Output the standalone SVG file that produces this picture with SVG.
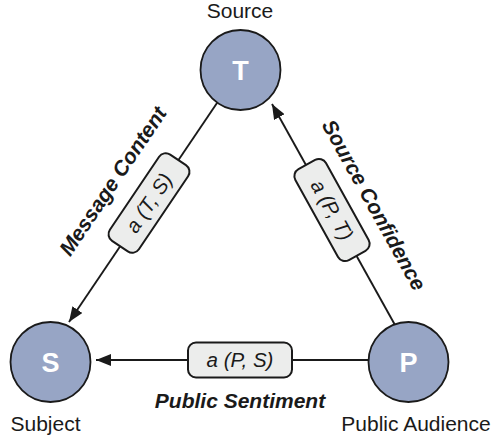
<svg xmlns="http://www.w3.org/2000/svg" width="497" height="440" viewBox="0 0 497 440">
  <defs>
    <style>
      .node circle { fill: #97a5c5; stroke: #1a1a1a; stroke-width: 1.8; }
      .node .letter { font-family: "Liberation Sans", Arial, sans-serif; font-weight: bold; font-size: 27px; fill: #ffffff; text-anchor: middle; }
      .caption { font-family: "Liberation Sans", Arial, sans-serif; font-size: 21px; fill: #1a1a1a; text-anchor: middle; }
      .rel { font-family: "Liberation Sans", Arial, sans-serif; font-size: 21px; font-weight: bold; font-style: italic; fill: #1a1a1a; text-anchor: middle; }
      .link { stroke: #1a1a1a; stroke-width: 1.9; fill: none; }
      .tag rect { fill: #ecedec; stroke: #1a1a1a; stroke-width: 2; }
      .tag text { font-family: "Liberation Sans", Arial, sans-serif; font-size: 20.5px; font-style: italic; fill: #1a1a1a; text-anchor: middle; }
    </style>
    <marker id="arrow" viewBox="0 0 15 12" refX="15" refY="6" markerWidth="15" markerHeight="12" markerUnits="userSpaceOnUse" orient="auto">
      <path d="M0,0 L15,6 L0,12 z" fill="#1a1a1a"/>
    </marker>
  </defs>

  <rect width="497" height="440" fill="#ffffff"/>

  <!-- connectors with their attitude tags -->
  <g id="connectors">
    <line class="link" x1="217" y1="103" x2="69" y2="322" marker-end="url(#arrow)"/>
    <line class="link" x1="395" y1="325" x2="272" y2="104" marker-end="url(#arrow)"/>
    <line class="link" x1="368" y1="360" x2="96" y2="360" marker-end="url(#arrow)"/>

    <g class="tag" transform="translate(149,203) rotate(-56)">
      <rect x="-52" y="-17.5" width="104" height="35" rx="8"/>
      <text x="0" y="7">a (T, S)</text>
    </g>
    <g class="tag" transform="translate(332,210) rotate(61)">
      <rect x="-52" y="-17.5" width="104" height="35" rx="8"/>
      <text x="0" y="7">a (P, T)</text>
    </g>
    <g class="tag" transform="translate(240,360)">
      <rect x="-52" y="-17.5" width="104" height="35" rx="8"/>
      <text x="0" y="7">a (P, S)</text>
    </g>

    <text class="rel" transform="translate(149,203) rotate(-56)" x="-2" y="-35">Message Content</text>
    <text class="rel" transform="translate(332,210) rotate(61)" x="16" y="-32">Source Confidence</text>
    <text class="rel" x="240" y="408">Public Sentiment</text>
  </g>

  <!-- source node -->
  <g id="node-T" class="node">
    <circle cx="240.5" cy="70" r="40"/>
    <text class="letter" x="240.5" y="79.5">T</text>
    <text class="caption" x="240" y="18">Source</text>
  </g>

  <!-- subject node -->
  <g id="node-S" class="node">
    <circle cx="50.5" cy="362" r="40"/>
    <text class="letter" x="50.5" y="371.5">S</text>
    <text class="caption" x="45.5" y="431">Subject</text>
  </g>

  <!-- public audience node -->
  <g id="node-P" class="node">
    <circle cx="408.5" cy="362" r="40"/>
    <text class="letter" x="408.5" y="371.5">P</text>
    <text class="caption" x="416" y="431">Public Audience</text>
  </g>
</svg>
